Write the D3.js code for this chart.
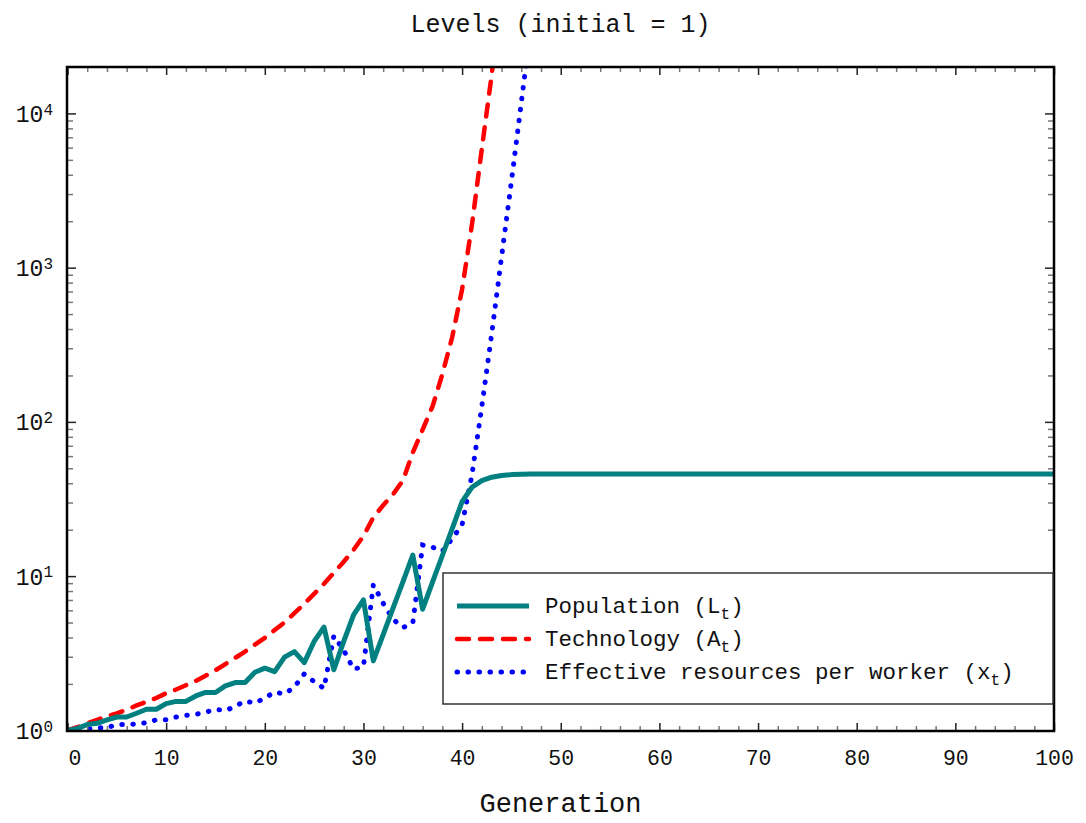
<!DOCTYPE html>
<html>
<head>
<meta charset="utf-8">
<script src="https://cdn.jsdelivr.net/npm/d3@7"></script>
<style>
  body { margin: 0; background: #fff; }
  text { font-family: "Liberation Mono", "DejaVu Sans Mono", monospace; fill: #111; }
</style>
</head>
<body>
<div id="chart"></div>
<script>
// generations 0..100
var generations = d3.range(0, 101);

// Population (L_t)
var population = [
  1.00, 1.03, 1.09, 1.11, 1.17, 1.22, 1.22, 1.29, 1.37, 1.37,
  1.49, 1.54, 1.54, 1.67, 1.76, 1.76, 1.94, 2.04, 2.04, 2.38,
  2.53, 2.40, 2.98, 3.24, 2.75, 3.77, 4.67, 2.47, 3.77, 5.61,
  7.01, 2.82, 4.18, 6.19, 9.17, 13.7, 6.10, 9.13, 13.6, 20.3,
  30.4, 37.7, 41.6, 43.8, 44.9, 45.5, 45.8, 46.0, 46.0, 46.0,
  46.0, 46.0, 46.0, 46.0, 46.0, 46.0, 46.0, 46.0, 46.0, 46.0,
  46.0, 46.0, 46.0, 46.0, 46.0, 46.0, 46.0, 46.0, 46.0, 46.0,
  46.0, 46.0, 46.0, 46.0, 46.0, 46.0, 46.0, 46.0, 46.0, 46.0,
  46.0, 46.0, 46.0, 46.0, 46.0, 46.0, 46.0, 46.0, 46.0, 46.0,
  46.0, 46.0, 46.0, 46.0, 46.0, 46.0, 46.0, 46.0, 46.0, 46.0,
  46.0
];

// Technology (A_t) - leaves the chart after generation 43
var technology = [
  1.00, 1.05, 1.11, 1.17, 1.23, 1.29, 1.36, 1.45, 1.53, 1.62,
  1.74, 1.84, 1.96, 2.09, 2.26, 2.45, 2.69, 2.95, 3.24, 3.59,
  3.98, 4.47, 5.01, 5.75, 6.61, 7.67, 8.91, 10.5, 12.4, 14.8,
  18.2, 24.0, 28.8, 33.9, 41.7, 63.1, 89.1, 126, 204, 355,
  724, 1905, 5890, 17800, 63100
];

// Effective resources per worker (x_t)
var resources = [
  1.00, 1.02, 1.02, 1.04, 1.04, 1.09, 1.09, 1.10, 1.12, 1.17,
  1.17, 1.22, 1.25, 1.27, 1.31, 1.37, 1.34, 1.43, 1.55, 1.50,
  1.62, 1.77, 1.72, 1.91, 2.32, 2.07, 1.87, 4.10, 3.31, 2.49,
  2.59, 8.77, 6.67, 5.25, 4.64, 4.95, 15.9, 15.4, 14.5, 17.5,
  21.5, 45.3, 126, 372, 1175, 3630, 11750, 38000, 120000
];

var xMajor = [0, 10, 20, 30, 40, 50, 60, 70, 80, 90, 100];
var yMajor = [1, 10, 100, 1000, 10000];
var yExponents = ["0", "1", "2", "3", "4"];

var seriesNames = ["Population (L", "Technology (A", "Effective resources per worker (x"];
var seriesColors = ["#008080", "#ff0000", "#0000ff"];

function draw() {
  var width = 1086, height = 823;
  var pLeft = 67, pRight = 1054, pTop = 67, pBottom = 731;

  var svg = d3.select("#chart").append("svg")
      .attr("width", width)
      .attr("height", height);

  var x = d3.scaleLinear().domain([0, 100]).range([pLeft + 0.5, pRight]);
  var y = d3.scaleLog().domain([0.99, 20000]).range([pBottom, pTop]);

  // minor ticks
  var xMinor = d3.range(0, 101, 2).filter(function(d) { return d % 10 !== 0; });
  var yMinor = [];
  yMajor.forEach(function(p) {
    for (var k = 2; k <= 9; k++) {
      if (p * k < 20000) yMinor.push(p * k);
    }
  });

  svg.append("defs").append("clipPath").attr("id", "clip")
    .append("rect")
      .attr("x", pLeft).attr("y", pTop)
      .attr("width", pRight - pLeft).attr("height", pBottom - pTop);

  // lines
  var line = d3.line()
      .x(function(d, i) { return x(generations[i]); })
      .y(function(d) { return y(d); });

  var plot = svg.append("g").attr("clip-path", "url(#clip)");

  var dashes = [null, "12 11", "0.5 10.5"];
  var widths = [5, 4.5, 5];

  plot.append("path")
      .datum(technology)
      .attr("fill", "none")
      .attr("stroke", seriesColors[1])
      .attr("stroke-width", widths[1])
      .attr("stroke-linecap", "round")
      .attr("stroke-dasharray", dashes[1])
      .attr("d", line);

  plot.append("path")
      .datum(resources)
      .attr("fill", "none")
      .attr("stroke", seriesColors[2])
      .attr("stroke-width", widths[2])
      .attr("stroke-linecap", "round")
      .attr("stroke-dasharray", dashes[2])
      .attr("d", line);

  plot.append("path")
      .datum(population)
      .attr("fill", "none")
      .attr("stroke", seriesColors[0])
      .attr("stroke-width", widths[0])
      .attr("stroke-linejoin", "round")
      .attr("d", line);

  // axes, ticks pointing inwards
  function styleTicks(g, color, w) {
    g.select(".domain").remove();
    g.selectAll(".tick line").attr("stroke", color).attr("stroke-width", w);
  }

  svg.append("g")
      .attr("transform", "translate(0," + pBottom + ")")
      .call(d3.axisBottom(x).tickValues(xMinor).tickSize(-5).tickFormat(""))
      .call(styleTicks, "#777", 1.5);
  svg.append("g")
      .attr("transform", "translate(0," + pTop + ")")
      .call(d3.axisTop(x).tickValues(xMinor).tickSize(-5).tickFormat(""))
      .call(styleTicks, "#777", 1.5);

  var xAxis = svg.append("g")
      .attr("transform", "translate(0," + pBottom + ")")
      .call(d3.axisBottom(x).tickValues(xMajor).tickSize(-8).tickPadding(0))
      .call(styleTicks, "#222", 1.5);
  xAxis.selectAll("text")
      .attr("y", 34).attr("dy", 0)
      .style("font-size", "21.5px")
      .style("font-family", "\"Liberation Mono\", monospace")
      .attr("fill", "#111");
  xAxis.selectAll("text").filter(function(d) { return d === 0; }).attr("dx", 7);

  svg.append("g")
      .attr("transform", "translate(0," + pTop + ")")
      .call(d3.axisTop(x).tickValues(xMajor).tickSize(-8).tickFormat(""))
      .call(styleTicks, "#222", 1.5);

  svg.append("g")
      .attr("transform", "translate(" + pLeft + ",0)")
      .call(d3.axisLeft(y).tickValues(yMinor).tickSize(-6).tickFormat(""))
      .call(styleTicks, "#777", 1.5);
  svg.append("g")
      .attr("transform", "translate(" + pRight + ",0)")
      .call(d3.axisRight(y).tickValues(yMinor).tickSize(-6).tickFormat(""))
      .call(styleTicks, "#777", 1.5);

  var yAxis = svg.append("g")
      .attr("transform", "translate(" + pLeft + ",0)")
      .call(d3.axisLeft(y).tickValues(yMajor).tickSize(-9).tickPadding(0))
      .call(styleTicks, "#222", 1.5);
  yAxis.selectAll("text").each(function(d, i) {
    var t = d3.select(this);
    t.text(null)
      .attr("x", -14).attr("dy", "0.35em")
      .attr("text-anchor", "end")
      .attr("fill", "#111")
      .style("font-size", "23px")
      .style("font-family", "\"Liberation Mono\", monospace");
    t.append("tspan").text("10");
    t.append("tspan").attr("dy", "-0.45em").style("font-size", "16px").text(yExponents[i]);
  });

  svg.append("g")
      .attr("transform", "translate(" + pRight + ",0)")
      .call(d3.axisRight(y).tickValues(yMajor).tickSize(-9).tickFormat(""))
      .call(styleTicks, "#222", 1.5);

  // frame
  svg.append("rect")
      .attr("x", pLeft).attr("y", pTop)
      .attr("width", pRight - pLeft).attr("height", pBottom - pTop)
      .attr("fill", "none")
      .attr("stroke", "#000")
      .attr("stroke-width", 2.5);

  // title and axis label
  svg.append("text")
      .attr("x", (pLeft + pRight) / 2).attr("y", 32)
      .attr("text-anchor", "middle")
      .style("font-size", "25px")
      .text("Levels (initial = 1)");

  svg.append("text")
      .attr("x", (pLeft + pRight) / 2).attr("y", 812)
      .attr("text-anchor", "middle")
      .style("font-size", "27px")
      .text("Generation");

  // legend
  var legend = svg.append("g").attr("transform", "translate(443,573)");
  legend.append("rect")
      .attr("width", 610).attr("height", 131)
      .attr("fill", "#fff")
      .attr("stroke", "#333")
      .attr("stroke-width", 1.5);

  seriesNames.forEach(function(name, i) {
    var yy = 33 + i * 33;
    legend.append("line")
        .attr("x1", 14).attr("x2", 86)
        .attr("y1", yy).attr("y2", yy)
        .attr("stroke", seriesColors[i])
        .attr("stroke-width", widths[i])
        .attr("stroke-linecap", i === 0 ? "butt" : "round")
        .attr("stroke-dasharray", dashes[i]);
    var t = legend.append("text")
        .attr("x", 102).attr("y", yy + 7)
        .style("font-size", "22.5px");
    t.append("tspan").text(name);
    t.append("tspan").attr("dy", 6).style("font-size", "16px").text("t");
    t.append("tspan").attr("dy", -6).text(")");
  });
}

draw();
</script>
</body>
</html>
